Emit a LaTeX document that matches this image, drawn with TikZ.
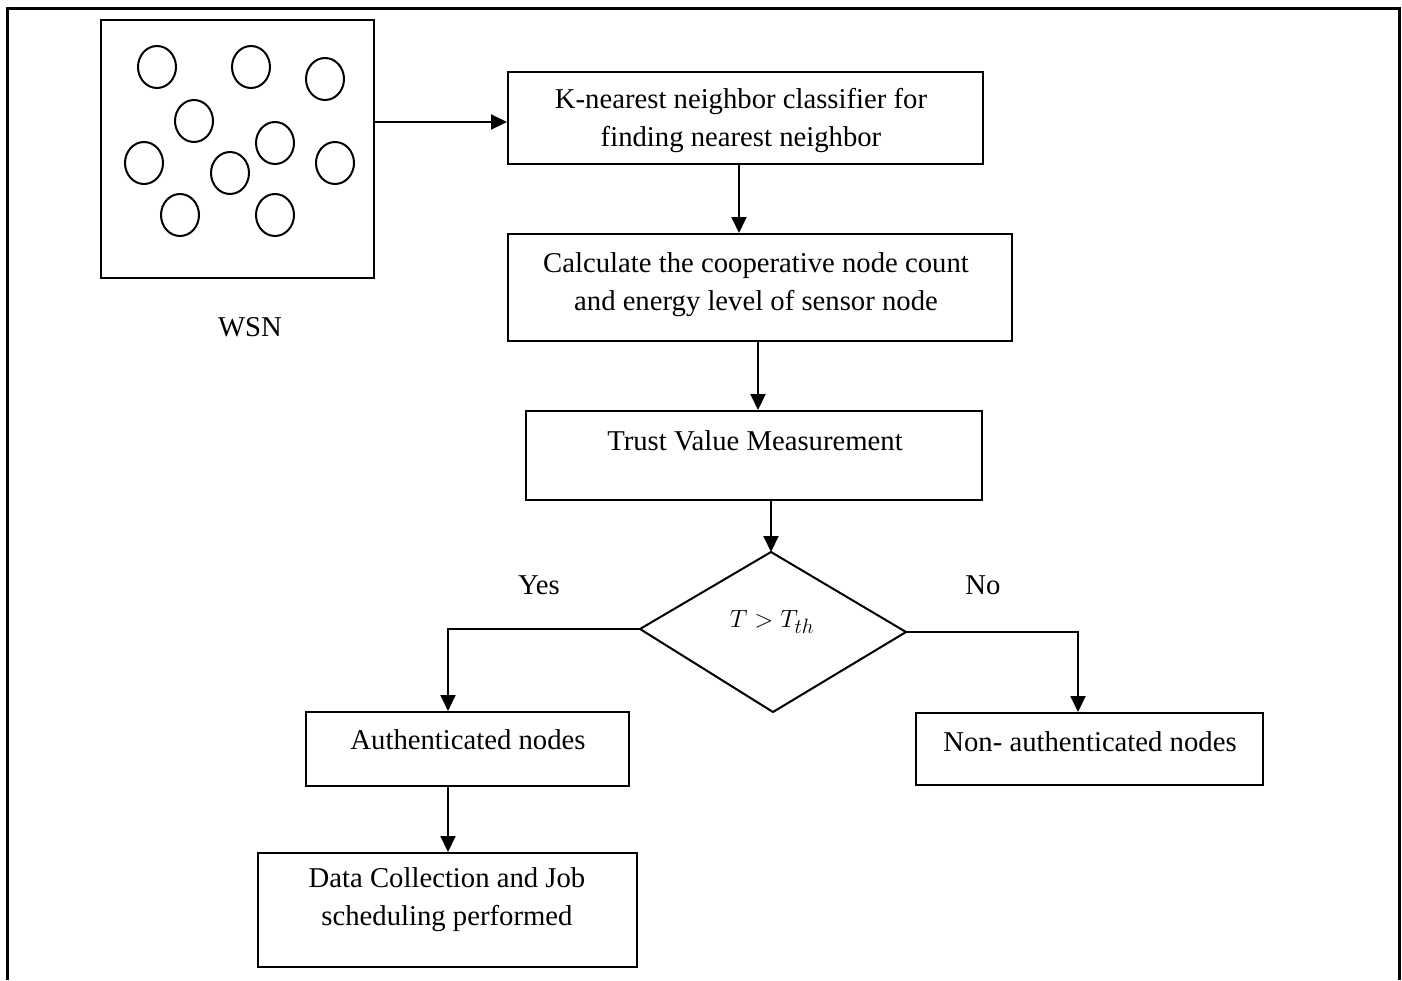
\documentclass[tikz,border=0pt]{standalone}
\usepackage{fontspec}
\setmainfont{Liberation Serif}
\usetikzlibrary{arrows.meta,shapes.geometric}
\tikzset{
  box/.style={draw, line width=2pt, inner sep=0pt, rectangle},
  txt/.style={align=center, inner sep=0pt, font=\fontsize{28.7}{38}\selectfont},
  arr/.style={line width=2pt, -{Triangle[length=16pt,width=15pt]}},
  ln/.style={line width=2pt},
  sensor/.style={draw, line width=2pt, ellipse, minimum width=38pt, minimum height=42pt, inner sep=0pt}
}
\begin{document}
\begin{tikzpicture}[x=1pt,y=-1pt]
\useasboundingbox (0,0) rectangle (1402,980);
% outer frame (no bottom edge visible)
\draw[line width=3pt] (7,980) -- (7,8) -- (1399,8) -- (1399,980);
% WSN box
\node[box, minimum width=273pt, minimum height=258pt] (wsn) at (237.5,149) {};
\foreach \n/\cx/\cy in {s1/157/67, s2/251/67, s3/325/79, s4/194/121, s5/144/163, s6/230/173, s7/275/143, s8/335/163, s9/180/215, s10/275/215}
  \node[sensor] (\n) at (\cx,\cy) {};
\node[txt] (wsnlab) at (250,327) {WSN};
% process boxes
\node[box, minimum width=475pt, minimum height=92pt] (b1) at (745.5,118) {};
\node[txt] (t1) at (741,120) {K-nearest neighbor classifier for\\finding nearest neighbor};
\node[box, minimum width=504pt, minimum height=107pt] (b2) at (760,287.5) {};
\node[txt] (t2) at (756,285) {Calculate the cooperative node count\\and energy level of sensor node};
\node[box, minimum width=456pt, minimum height=89pt] (b3) at (754,455.5) {};
\node[txt] (t3) at (755,441) {Trust Value Measurement};
% decision
\coordinate (dt) at (771,552);
\coordinate (dl) at (640,629);
\coordinate (dr) at (906,632);
\coordinate (db) at (773,712);
\draw[ln, line join=miter] (dt) -- (dr) -- (db) -- (dl) -- cycle;
\node[txt, font=\fontsize{29}{30}\selectfont] (cond) at (772,622) {$T > T_{th}$};
\node[txt] (yes) at (539,585) {Yes};
\node[txt] (no) at (983,585) {No};
% result boxes
\node[box, minimum width=323pt, minimum height=74pt] (b4) at (467.5,749) {};
\node[txt] (t4) at (468,740) {Authenticated nodes};
\node[box, minimum width=347pt, minimum height=72pt] (b5) at (1089.5,749) {};
\node[txt] (t5) at (1090,742) {Non- authenticated nodes};
\node[box, minimum width=379pt, minimum height=114pt] (b6) at (447.5,910) {};
\node[txt] (t6) at (447,900) {Data Collection and Job\\scheduling performed};
% connectors
\coordinate (r1) at (0,122);
\coordinate (c1) at (739,0);
\coordinate (c2) at (758,0);
\coordinate (c4) at (448,0);
\coordinate (c5) at (1078,0);
\draw[arr] (wsn.east |- r1) -- (b1.west |- r1);
\draw[arr] (b1.south -| c1) -- (b2.north -| c1);
\draw[arr] (b2.south -| c2) -- (b3.north -| c2);
\draw[arr] (b3.south -| dt) -- (dt);
\draw[arr] (dl) -| (b4.north -| c4);
\draw[arr] (dr) -| (b5.north -| c5);
\draw[arr] (b4.south -| c4) -- (b6.north -| c4);
\end{tikzpicture}
\end{document}
